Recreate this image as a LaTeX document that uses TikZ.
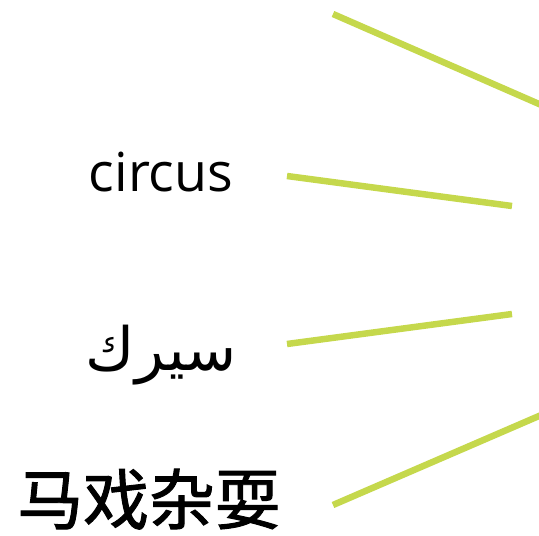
\documentclass[tikz,border=0pt]{standalone}
\usepackage{fontspec}
\setmainfont{Open Sans}
\newfontfamily\arabicfont[Script=Arabic]{DejaVu Sans}
\newfontfamily\cjk[FakeBold=1.5]{Noto Sans CJK SC}
\TeXXeTstate=1
\definecolor{lime}{HTML}{C5D84C}
\tikzset{
  conn/.style={draw=lime, line width=6.5bp},
  lbl/.style={inner sep=0pt, text=black}
}
\begin{document}
\begin{tikzpicture}[x=1bp, y=-1bp]
\useasboundingbox (0,0) rectangle (539,536);
\clip (0,0) rectangle (539,536);
\node[lbl, anchor=base, font=\fontsize{54}{60}\selectfont] (en) at (161,192) {circus};
\node[lbl, anchor=base, font=\fontsize{60}{66}\selectfont\arabicfont] (ar) at (161,370) {\beginR سيرك\endR};
\node[lbl, anchor=base, font=\fontsize{66}{72}\selectfont\cjk] (zh) at (149,524) {马戏杂耍};
\coordinate (a1) at (333,14);
\coordinate (b1) at (545,106.6);
\coordinate (a2) at (287,176);
\coordinate (b2) at (512,206);
\coordinate (a3) at (287,344);
\coordinate (b3) at (512,314);
\coordinate (a4) at (333,505);
\coordinate (b4) at (545,413.4);
\draw[conn] (a1) -- (b1);
\draw[conn] (a2) -- (b2);
\draw[conn] (a3) -- (b3);
\draw[conn] (a4) -- (b4);
\end{tikzpicture}
\end{document}
